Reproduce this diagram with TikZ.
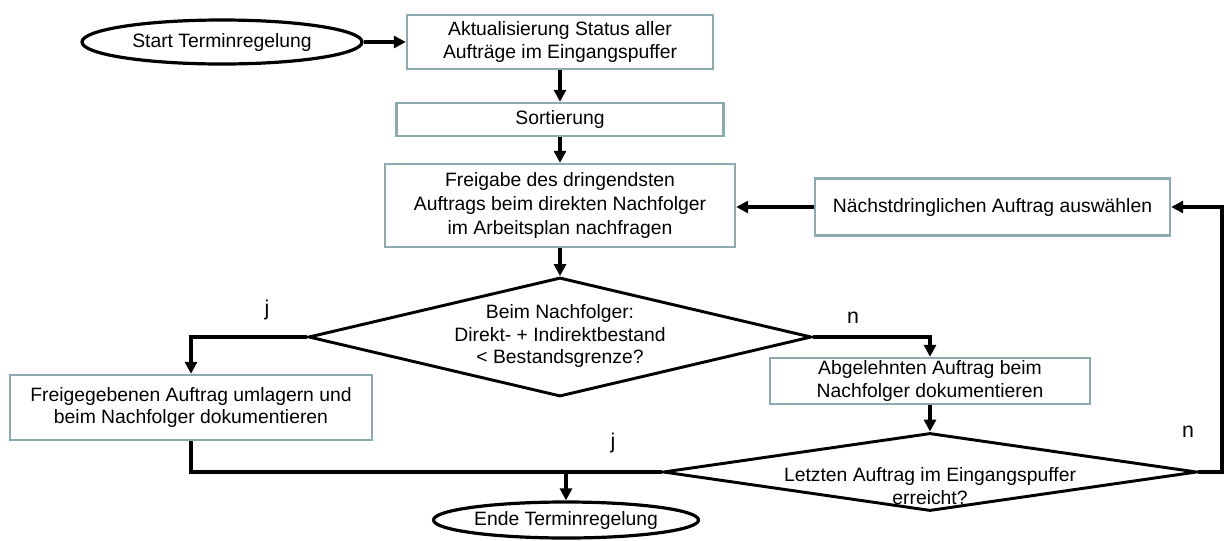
\documentclass[tikz,border=0pt]{standalone}
\usepackage{fontspec}
\setmainfont{Liberation Sans}
\usetikzlibrary{shapes.geometric,arrows.meta}
\definecolor{boxline}{RGB}{141,171,175}

\begin{document}
\begin{tikzpicture}
[x=0.75pt,y=-0.75pt,
 font=\fontsize{14.5}{17}\selectfont,
 boxDecorate/.style={shape=rectangle,draw=boxline,line width=1.8pt,fill=white,inner sep=0pt,align=center},%
 termDecorate/.style={shape=ellipse,draw,line width=2.4pt,inner sep=0pt},%
 decisionDecorate/.style={shape=diamond,draw,line width=2.2pt,inner sep=0pt},%
 lineDecorate/.style={-,line width=3pt},%
 arrowDecorate/.style={lineDecorate,-{Triangle[length=9pt,width=9pt]}},%
 labelDecorate/.style={font=\fontsize{16}{18}\selectfont}]
\useasboundingbox (0,0) rectangle (1224,540);
%% start and end
\node (start) at (222,42) [termDecorate,minimum width=210pt,minimum height=33pt] {Start Terminregelung};
\node (end) at (566,520) [termDecorate,minimum width=198.75pt,minimum height=27pt] {Ende Terminregelung};
%% process boxes
\foreach \nodename/\x/\y/\w/\h/\txt in {
  update/560/42/229.5/40.5/{Aktualisierung Status aller\\Aufträge im Eingangspuffer},
  sort/560/119.5/245.25/24.75/{Sortierung},
  release/560/205.5/262.5/62.25/{Freigabe des dringendsten\\[1pt]Auftrags beim direkten Nachfolger\\[1pt]im Arbeitsplan nachfragen},
  next/992.5/207/266.25/42.75/{Nächstdringlichen Auftrag auswählen},
  keep/191/407.5/271.5/48.75/{Freigegebenen Auftrag umlagern und\\beim Nachfolger dokumentieren},
  reject/930/381/240/34.5/{Abgelehnten Auftrag beim\\Nachfolger dokumentieren}}
{
  \node (\nodename) at (\x,\y) [boxDecorate,minimum width=\w pt,minimum height=\h pt] {\txt};
}
%% decisions
\node (check) at (560,337) [decisionDecorate,minimum width=377.25pt,minimum height=89.25pt] {};
\node (checktext) at (560,336) [align=center,inner sep=0pt] {Beim Nachfolger:\\Direkt- + Indirektbestand\\< Bestandsgrenze?};
\node (last) at (930,472) [decisionDecorate,minimum width=400.5pt,minimum height=58.5pt] {};
\node (lasttext) at (930,486) [align=center,inner sep=0pt] {Letzten Auftrag im Eingangspuffer\\erreicht?};
%% branch labels
\node (checkyes) at (267,310) [labelDecorate] {j};
\node (checkno) at (853,318) [labelDecorate] {n};
\node (lastyes) at (613,443) [labelDecorate] {j};
\node (lastno) at (1188,432) [labelDecorate] {n};
\coordinate (loop) at (1222,472);
%% edges or lines
\path
\foreach \startnode/\endnode in {start/update, update/sort, sort/release, release/check, reject/last}
{
  (\startnode) edge[arrowDecorate] (\endnode)
};
\draw[arrowDecorate] (check.west) -| (keep.north);
\draw[arrowDecorate] (check.east) -| (reject.north);
\draw[lineDecorate] (keep.south) |- (last.west);
\draw[arrowDecorate] (end.north |- last.west) -- (end.north);
\draw[arrowDecorate] (last.east) -- (loop) |- (next.east);
\draw[arrowDecorate] (next.west) -- (next.west -| release.east);
\end{tikzpicture}
\end{document}
